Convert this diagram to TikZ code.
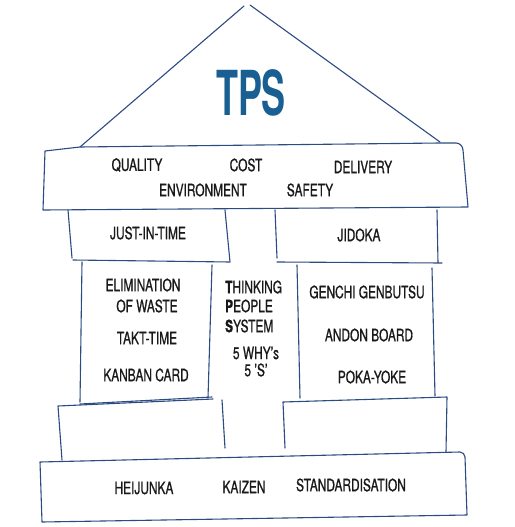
\documentclass[tikz,border=0pt]{standalone}
\usepackage{fontspec}
\usepackage{graphicx}
\setmainfont{TeX Gyre Heros}[FakeStretch=0.7,FakeBold=0.8]
\newfontfamily\tpsfont{TeX Gyre Heros}[FakeStretch=0.58]
\definecolor{ink}{RGB}{45,75,130}
\definecolor{tpsblue}{RGB}{25,95,145}
\begin{document}
\begin{tikzpicture}[x=1pt,y=-1pt,
  line/.style={draw=ink,line width=1.1pt,line cap=round,line join=round},
  lbl/.style={font=\fontsize{17}{18}\selectfont,inner sep=0pt,text=black!90}]
\useasboundingbox[fill=white] (0,0) rectangle (514,527);
% roof
\draw[line] (80,147) -- (244,6) (250,5) -- (440,142);
% top beam
\draw[line] (45,151) -- (80,147) -- (440,143) -- (456,143) to[out=0,in=95] (463,150) -- (468,207) -- (43,210) -- cycle;
% JIT / JIDOKA boxes
\draw[line] (68,210) -- (72,258) (73,260) -- (230,262) (225,210) -- (230,262);
\draw[line] (275,210) -- (277,258) (277,262) -- (442,263) (437,210) -- (438,263);
% columns
\draw[line] (82,262) -- (80,402) (212,265) -- (208,398) (80,404) -- (212,397);
\draw[line] (297,265) -- (300,398) (432,268) -- (435,396);
% lower blocks
\draw[line] (58,406) -- (213,399) (58,406) -- (62,460) (222,400) -- (225,448);
\draw[line] (283,402) -- (447,397) (283,402) -- (285,448) (447,397) -- (446,452);
% base
\draw[line] (40,462) -- (460,452) to[out=0,in=95] (465,457) -- (467,515) -- (42,522) -- cycle;
% texts
\node[inner sep=0pt,text=tpsblue,font=\tpsfont\bfseries\fontsize{62}{62}\selectfont] (tps) at (251,93) {TPS};
\node[lbl] (quality) at (137,165) {QUALITY};
\node[lbl] (cost) at (246,165) {COST};
\node[lbl] (delivery) at (363,167) {DELIVERY};
\node[lbl] (env) at (203,190) {ENVIRONMENT};
\node[lbl] (safety) at (310,190) {SAFETY};
\node[lbl] (jit) at (148,233) {JUST-IN-TIME};
\node[lbl] (jidoka) at (359,235) {JIDOKA};
\node[lbl] (elim) at (143,285) {ELIMINATION};
\node[lbl] (waste) at (147,306) {OF WASTE};
\node[lbl] (takt) at (147,338) {TAKT-TIME};
\node[lbl] (kanban) at (146,375) {KANBAN CARD};
\node[lbl,anchor=west] (think) at (225,287) {\textbf{T}HINKING};
\node[lbl,anchor=west] (people) at (225,306) {\textbf{P}EOPLE};
\node[lbl,anchor=west] (system) at (225,326) {\textbf{S}YSTEM};
\node[lbl] (why) at (256,353) {5 WHY's};
\node[lbl] (fives) at (256,370) {5 'S'};
\node[lbl] (genchi) at (367,292) {GENCHI GENBUTSU};
\node[lbl] (andon) at (369,335) {ANDON BOARD};
\node[lbl] (poka) at (372,377) {POKA-YOKE};
\node[lbl] (heij) at (144,488) {HEIJUNKA};
\node[lbl] (kaizen) at (244,487) {KAIZEN};
\node[lbl] (std) at (351,485) {STANDARDISATION};
\end{tikzpicture}
\end{document}
